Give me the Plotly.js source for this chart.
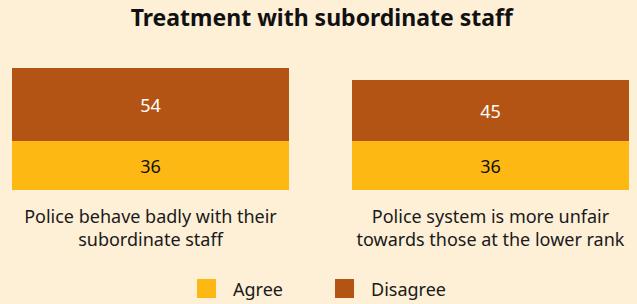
<!DOCTYPE html>
<html>
<head>
<meta charset="utf-8">
<script src="https://cdn.plot.ly/plotly-3.0.1.min.js"></script>
<style>html,body{margin:0;padding:0;background:#FEEFD7;}#chart{width:637px;height:304px;}</style>
</head>
<body>
<div id="chart"></div>
<script>
const categories = ["Police behave badly with their<br>subordinate staff", "Police system is more unfair<br>towards those at the lower rank"];
const seriesNames = ["Agree", "Disagree"];
const agree = [36, 36];
const disagree = [54, 45];
const colors = ["#FDB813", "#B45414"];

const FONT = "Noto Sans, sans-serif";
const xpos = categories.map((c, i) => i);

const traces = [
  {type: "bar", x: xpos, y: agree, name: seriesNames[0], width: 0.815,
   marker: {color: colors[0]}, text: agree.map(String), textposition: "inside",
   insidetextanchor: "middle", textfont: {color: "#111", size: 18, family: FONT},
   hoverinfo: "skip", showlegend: false},
  {type: "bar", x: xpos, y: disagree, name: seriesNames[1], width: 0.815,
   marker: {color: colors[1]}, text: disagree.map(String), textposition: "inside",
   insidetextanchor: "middle", textfont: {color: "#FFFFFF", size: 18, family: FONT},
   hoverinfo: "skip", showlegend: false}
];

// legend drawn as shapes + annotations (paper coords)
const W = 637, plotTop = 60, plotBottom = 190, plotH = plotBottom - plotTop;
const px = v => v / W;
const py = v => (plotBottom - v) / plotH;
const legendX = [197, 335];
const shapes = seriesNames.map((n, i) => ({
  type: "rect", xref: "paper", yref: "paper",
  x0: px(legendX[i]), x1: px(legendX[i] + 19), y0: py(298), y1: py(279),
  fillcolor: colors[i], line: {width: 0}
}));
const annotations = seriesNames.map((n, i) => ({
  text: n, xref: "paper", yref: "paper", x: px(legendX[i] + 34), y: py(288.5),
  xanchor: "left", yanchor: "middle", showarrow: false,
  font: {family: FONT, size: 18, color: "#1a1a1a"}
}));

const layout = {
  width: 637, height: 304,
  paper_bgcolor: "#FEEFD7", plot_bgcolor: "#FEEFD7",
  margin: {l: 0, r: 0, t: plotTop, b: 304 - plotBottom},
  barmode: "stack",
  showlegend: false,
  title: {text: "<b>Treatment with subordinate staff</b>", x: 0.505, xanchor: "center",
          y: 1 - 18 / 304, yanchor: "middle", yref: "container",
          font: {family: FONT, size: 23, color: "#111"}},
  xaxis: {range: [-0.4426, 1.4309], tickvals: xpos, ticktext: categories,
          showgrid: false, zeroline: false, showline: false, ticks: "",
          ticklabelstandoff: 14,
          tickfont: {family: FONT, size: 18, color: "#1a1a1a"}, fixedrange: true},
  yaxis: {range: [0, plotH / 1.355], visible: false, showgrid: false, fixedrange: true},
  shapes: shapes,
  annotations: annotations
};

Plotly.newPlot("chart", traces, layout, {displayModeBar: false, staticPlot: true});
</script>
</body>
</html>
